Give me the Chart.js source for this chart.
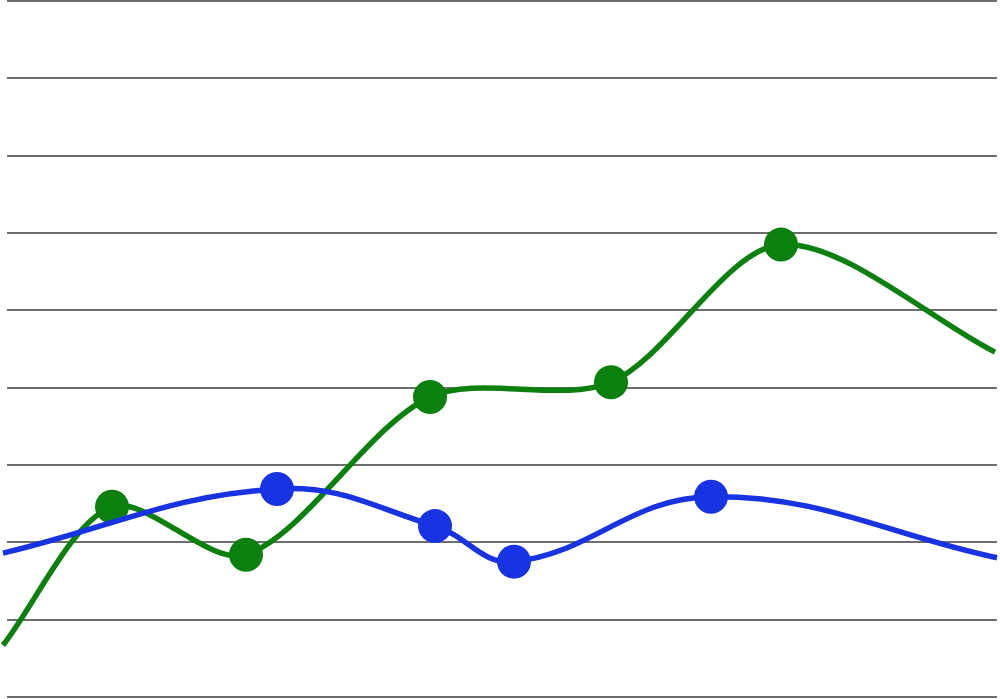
<!DOCTYPE html>
<html>
<head>
<meta charset="utf-8">
<script src="https://cdn.jsdelivr.net/npm/chart.js@4/dist/chart.umd.min.js"></script>
<style>
  html, body { margin: 0; padding: 0; background: #fff; }
  #wrap { width: 1000px; height: 699px; }
</style>
</head>
<body>
<div id="wrap"><canvas id="lines"></canvas></div>
<script>
// values (x in horizontal units, y in grid steps)
var greenX = [3, 112, 246, 430, 611, 781, 995];
var greenY = [0.67, 2.46, 1.84, 3.88, 4.07, 5.85, 4.46];
var greenDots = [0, 17, 17, 17, 17, 17, 0];

var blueX = [3, 277, 435, 514, 711, 997];
var blueY = [1.86, 2.69, 2.21, 1.75, 2.59, 1.80];
var blueDots = [0, 17, 17, 17, 17, 0];

var gridSteps = [0, 1, 2, 3, 4, 5, 6, 7, 8, 9];

function toPoints(xs, ys) {
	var pts = [];
	for (var i = 0; i < xs.length; i++) pts.push({x: xs[i], y: ys[i]});
	return pts;
}

var ctx = document.getElementById('lines').getContext('2d');
var lineChart = new Chart(ctx, {type: 'line', data: {
		datasets: [{
			label: 'blue',
			data: toPoints(blueX, blueY),
			borderColor: '#1733e2',
			backgroundColor: '#1733e2',
			pointBackgroundColor: '#1733e2',
			pointRadius: blueDots,
			pointBorderWidth: 0,
			borderWidth: 5.5,
			tension: 0.4,
			clip: false
		}, {
			label: 'green',
			data: toPoints(greenX, greenY),
			borderColor: '#0b800e',
			backgroundColor: '#0b800e',
			pointBackgroundColor: '#0b800e',
			pointRadius: greenDots,
			pointBorderWidth: 0,
			borderWidth: 5.5,
			tension: 0.3,
			clip: false
		}]
	}, options: {
		responsive: true,
		maintainAspectRatio: false,
		animation: false,
		layout: { padding: { left: 7, right: 3, top: 1, bottom: 2 } },
		plugins: { legend: { display: false }, tooltip: { enabled: false } },
		scales: {
			x: { type: 'linear', min: 7, max: 997, display: false },
			y: {
				min: gridSteps[0],
				max: gridSteps[gridSteps.length - 1],
				afterBuildTicks: function (scale) {
					scale.ticks = gridSteps.map(function (v) { return {value: v}; });
				},
				ticks: { display: false },
				border: { display: false },
				grid: { color: '#6e6e6e', lineWidth: 2, drawTicks: false }
			}
		}
	}});
</script>
</body>
</html>
